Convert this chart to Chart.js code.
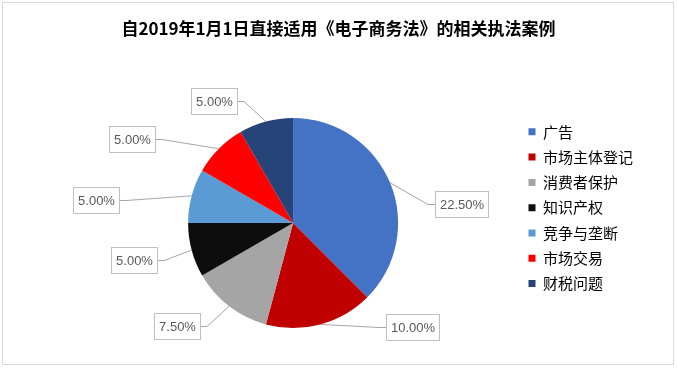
<!DOCTYPE html>
<html>
<head>
<meta charset="utf-8">
<script src="https://cdn.jsdelivr.net/npm/chart.js@4/dist/chart.umd.min.js"></script>
<style>
  html, body { margin: 0; padding: 0; background: #fff; }
</style>
</head>
<body>
<canvas id="pieChart" width="677" height="369"></canvas>
<script>
// 数据
const titleText = '自2019年1月1日直接适用《电子商务法》的相关执法案例';
const categories = ['广告', '市场主体登记', '消费者保护', '知识产权', '竞争与垄断', '市场交易', '财税问题'];
const values = [22.5, 10, 7.5, 5, 5, 5, 5];
const colors = ['#4472C4', '#C00000', '#A5A5A5', '#0D0D0D', '#5B9BD5', '#FF0000', '#264478'];

// 标签框相对扇区外缘中点的偏移
const labelOffsets = [[71, 21], [92, 3], [-52, 20], [-58, 10], [-96, 4], [-87, -10], [-52, -21]];

// 外框 + 标题（标题居中于整个画布，图例在右侧）
const framePlugin = {
    id: 'frame',
    beforeDraw(chart) {
        const ctx = chart.ctx;
        ctx.save();
        ctx.fillStyle = '#fff';
        ctx.fillRect(0, 0, chart.width, chart.height);
        ctx.strokeStyle = '#D9D9D9';
        ctx.lineWidth = 1;
        ctx.strokeRect(2.5, 2.5, 671, 362);

        ctx.fillStyle = '#000';
        ctx.font = 'bold 17px "Noto Sans CJK SC", sans-serif';
        ctx.textAlign = 'center';
        ctx.textBaseline = 'middle';
        ctx.fillText(titleText, chart.width / 2, 29);
        ctx.restore();
    }
};

// 数据标签（带引线和边框）
const labelPlugin = {
    id: 'pieLabels',
    afterDatasetsDraw(chart) {
        const ctx = chart.ctx;
        const meta = chart.getDatasetMeta(0);
        ctx.save();
        ctx.font = '13px "Liberation Sans", Arial, sans-serif';
        meta.data.forEach((arc, i) => {
            const p = arc.getProps(['x', 'y', 'startAngle', 'endAngle', 'outerRadius'], true);
            const mid = (p.startAngle + p.endAngle) / 2;
            const ex = p.x + Math.cos(mid) * p.outerRadius;
            const ey = p.y + Math.sin(mid) * p.outerRadius;
            const cx = ex + labelOffsets[i][0];
            const cy = ey + labelOffsets[i][1];
            const text = values[i].toFixed(2) + '%';
            const w = Math.round(ctx.measureText(text).width + 9);
            const h = 26;
            const bx = Math.round(cx - w / 2);
            const by = Math.round(cy - h / 2);
            const onRight = cx > ex;
            const sideX = onRight ? bx : bx + w;
            const elbowX = onRight ? sideX - 7 : sideX + 7;

            ctx.strokeStyle = '#A6A6A6';
            ctx.lineWidth = 1;
            ctx.beginPath();
            ctx.moveTo(ex, ey);
            ctx.lineTo(elbowX, Math.round(cy) + 0.5);
            ctx.lineTo(sideX, Math.round(cy) + 0.5);
            ctx.stroke();

            ctx.fillStyle = '#fff';
            ctx.fillRect(bx, by, w, h);
            ctx.strokeStyle = '#BFBFBF';
            ctx.strokeRect(bx + 0.5, by + 0.5, w, h);

            ctx.fillStyle = '#595959';
            ctx.textAlign = 'center';
            ctx.textBaseline = 'middle';
            ctx.fillText(text, bx + w / 2 + 0.5, by + h / 2 + 1);
        });
        ctx.restore();
    }
};

const ctx = document.getElementById('pieChart').getContext('2d');
const pieChart = new Chart(ctx, {
    type: 'pie',
    data: {
        labels: categories,
        datasets: [{
            data: values,
            backgroundColor: colors,
            borderWidth: 0,
            radius: 105
        }]
    },
    options: {
        responsive: false,
        animation: false,
        devicePixelRatio: 1,
        layout: {
            padding: { left: 68, right: 34, top: 114, bottom: 37 }
        },
        plugins: {
            title: { display: false },
            legend: {
                display: true,
                position: 'right',
                align: 'start',
                fullSize: false,
                labels: {
                    boxWidth: 7,
                    boxHeight: 7,
                    padding: 10.3,
                    color: '#000',
                    font: { family: '"Noto Sans CJK SC", sans-serif', size: 15 }
                }
            },
            tooltip: { enabled: false }
        }
    },
    plugins: [framePlugin, labelPlugin]
});
</script>
</body>
</html>
